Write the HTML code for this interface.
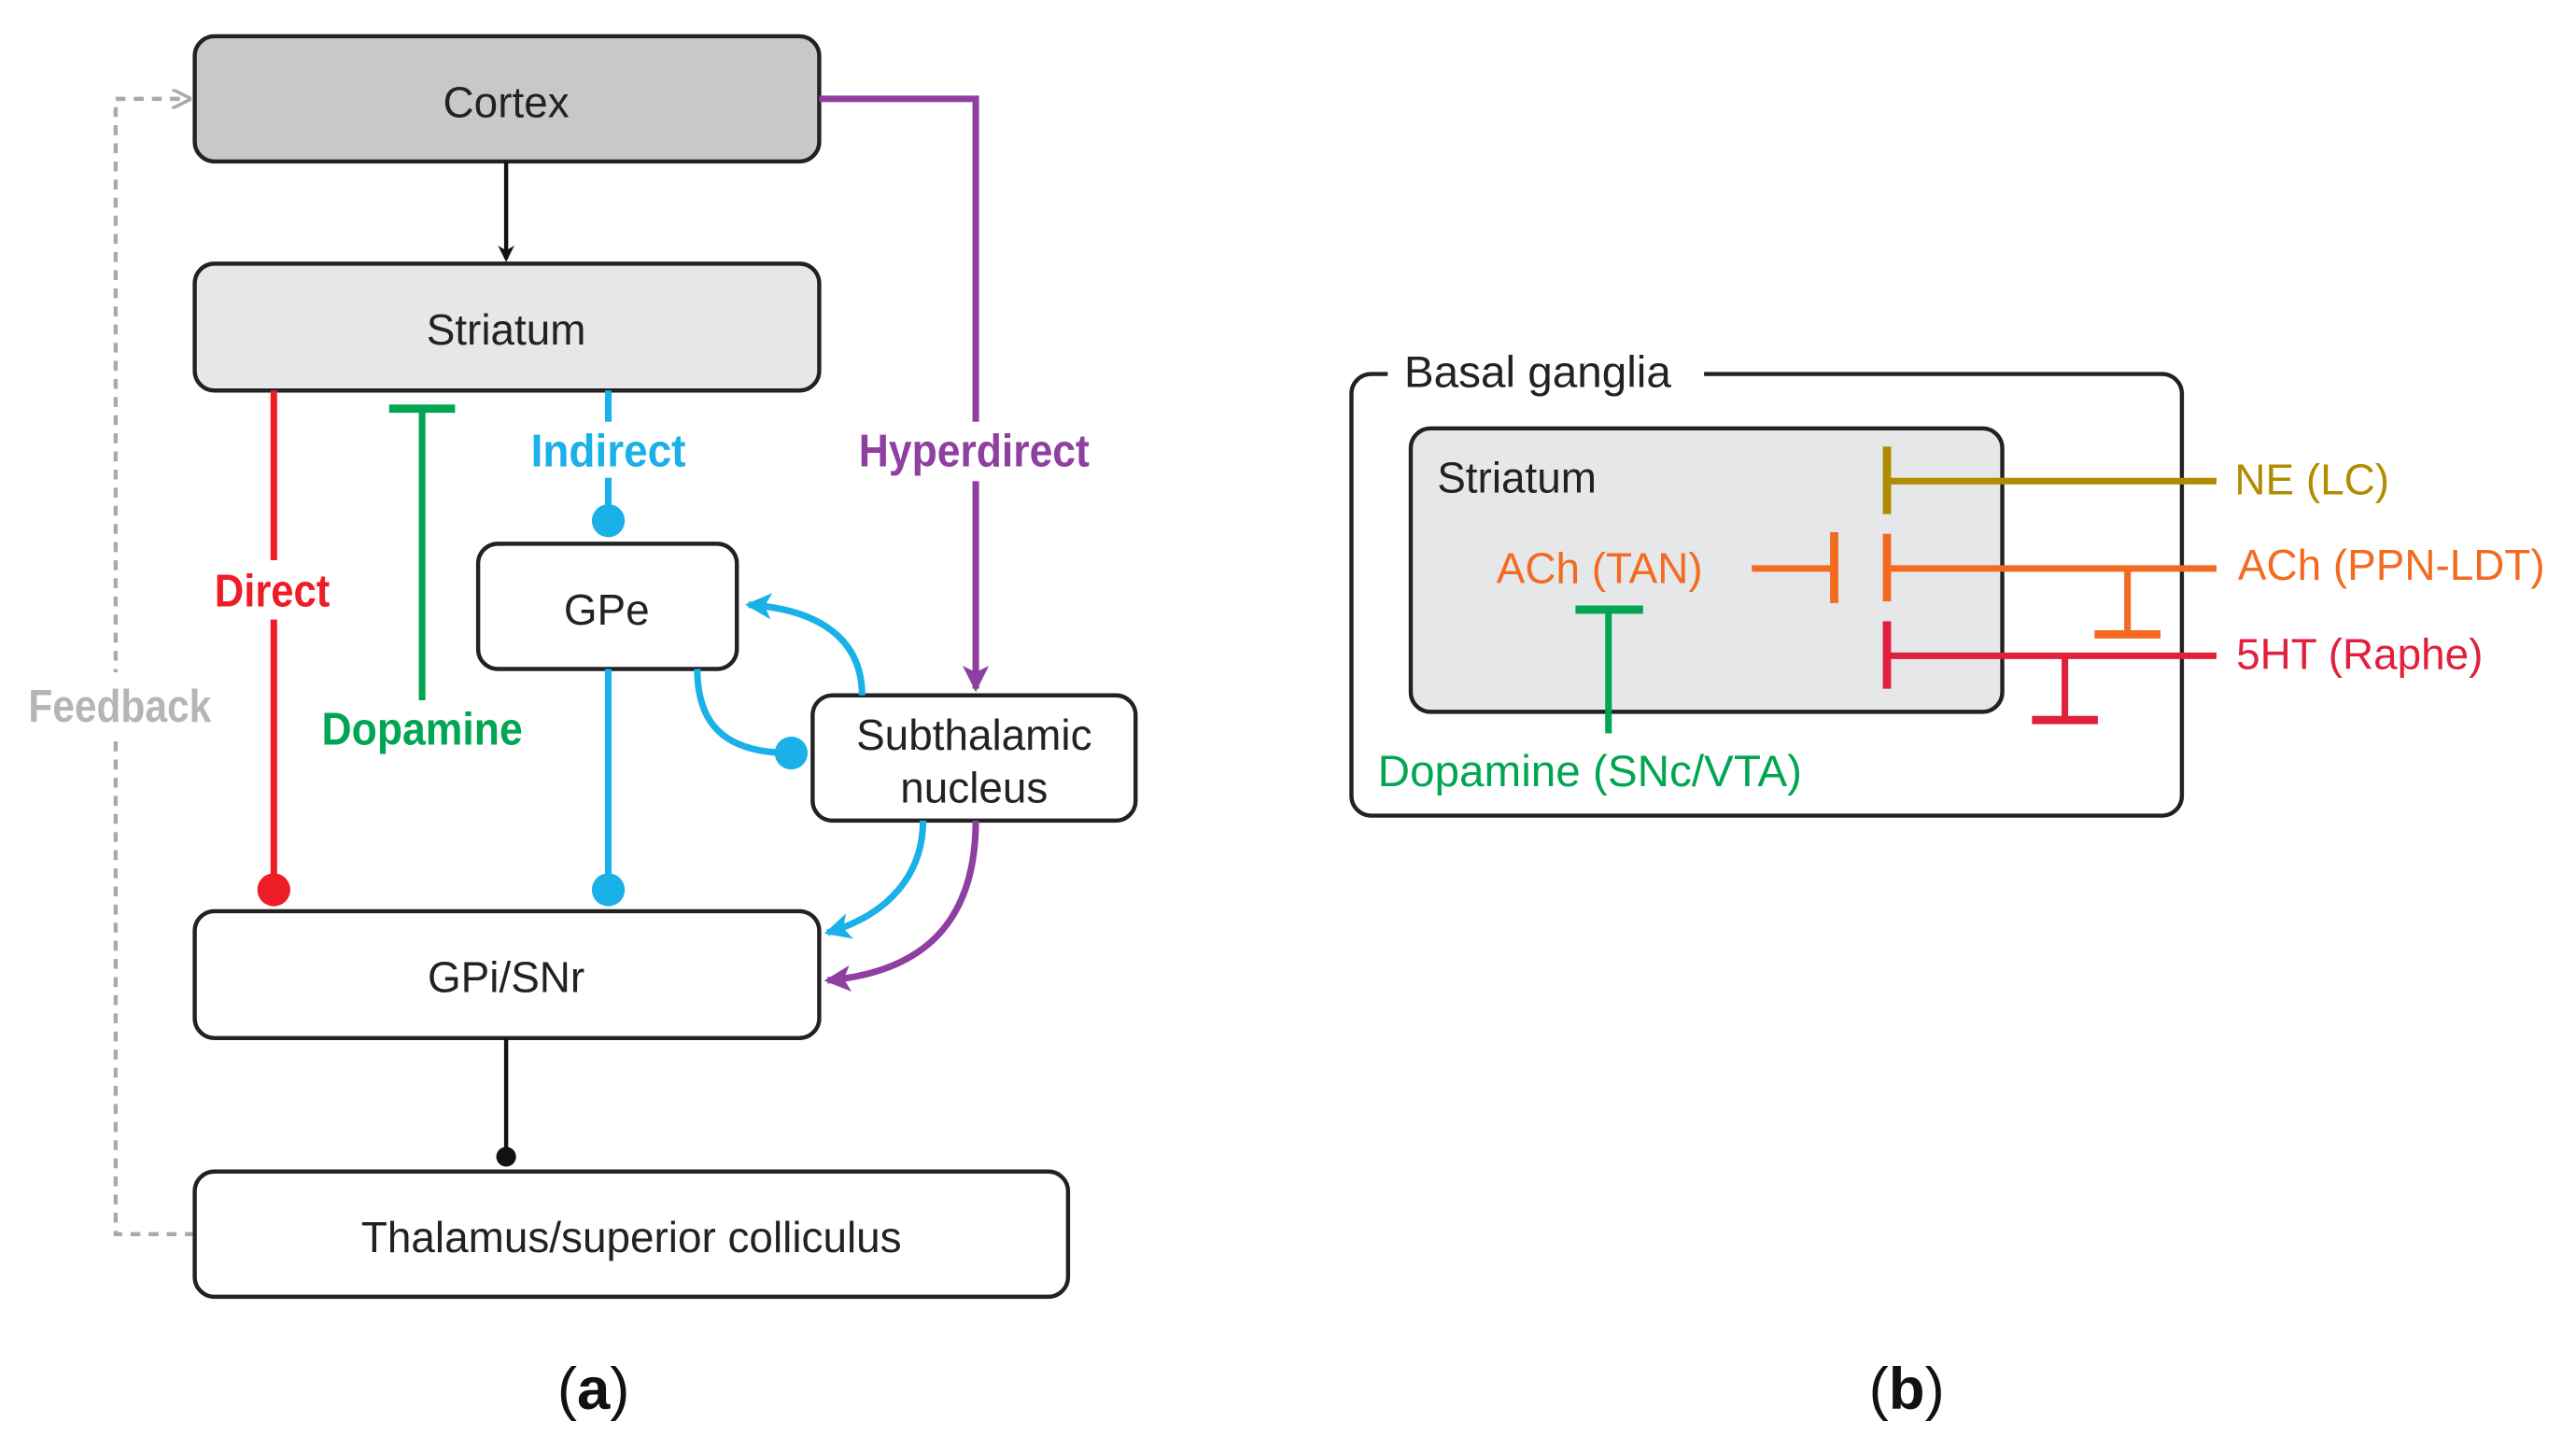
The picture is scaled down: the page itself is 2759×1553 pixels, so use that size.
<!DOCTYPE html>
<html><head><meta charset="utf-8"><style>
html,body{margin:0;padding:0;background:#fff;}
svg{display:block;}
text{font-family:"Liberation Sans",sans-serif;}
.c{font-family:"Liberation Sans Narrow","Liberation Sans",sans-serif;font-weight:bold;}
</style></head><body>
<svg width="2759" height="1553" viewBox="0 0 1563 880" xmlns="http://www.w3.org/2000/svg">
<defs>
<marker id="ak" markerWidth="10" markerHeight="10" refX="8" refY="5" orient="auto" markerUnits="userSpaceOnUse"><path d="M0,0 L10,5 L0,10 L3,5z" fill="#111"/></marker>
<marker id="ab" markerWidth="18" markerHeight="18" refX="14" refY="8" orient="auto" markerUnits="userSpaceOnUse"><path d="M0,0 L16,8 L0,16 L4,8z" fill="#1ab0e8"/></marker>
<marker id="ap" markerWidth="18" markerHeight="18" refX="14" refY="8" orient="auto" markerUnits="userSpaceOnUse"><path d="M0,0 L16,8 L0,16 L4,8z" fill="#8e3fa0"/></marker>
<marker id="ag" markerWidth="12" markerHeight="12" refX="10" refY="6" orient="auto" markerUnits="userSpaceOnUse"><path d="M0,0 L12,6 L0,12" fill="none" stroke="#aaa" stroke-width="2"/></marker>
</defs>
<path d="M118,749 H70 V60 H114" fill="none" stroke="#aaa" stroke-width="2.5" stroke-dasharray="6,5" marker-end="url(#ag)"/>
<rect x="14" y="408" width="118" height="40" fill="#fff"/>
<text x="17" y="438" class="c" font-size="28" fill="#b5b5b5" textLength="111" lengthAdjust="spacingAndGlyphs">Feedback</text>
<rect x="118" y="22" width="379" height="76" rx="12" fill="#c8c8c8" stroke="#222" stroke-width="2.5"/>
<text x="307" y="71" font-size="26" text-anchor="middle" fill="#222">Cortex</text>
<line x1="307" y1="98" x2="307" y2="157" stroke="#111" stroke-width="2.5" marker-end="url(#ak)"/>
<rect x="118" y="160" width="379" height="77" rx="12" fill="#e6e7e9" stroke="#222" stroke-width="2.5"/>
<text x="307" y="209" font-size="26" text-anchor="middle" fill="#222">Striatum</text>
<line x1="166" y1="237" x2="166" y2="540" stroke="#ee1c25" stroke-width="4"/>
<circle cx="166" cy="540" r="10" fill="#ee1c25"/>
<rect x="125" y="340" width="82" height="36" fill="#fff"/>
<text x="130" y="368" class="c" font-size="28" fill="#ee1c25" textLength="70" lengthAdjust="spacingAndGlyphs">Direct</text>
<line x1="256" y1="248" x2="256" y2="425" stroke="#00a651" stroke-width="4"/>
<line x1="236" y1="248" x2="276" y2="248" stroke="#00a651" stroke-width="5"/>
<text x="195" y="452" class="c" font-size="28" fill="#00a651" textLength="122" lengthAdjust="spacingAndGlyphs">Dopamine</text>
<line x1="369" y1="237" x2="369" y2="256" stroke="#1ab0e8" stroke-width="4"/>
<line x1="369" y1="290" x2="369" y2="316" stroke="#1ab0e8" stroke-width="4"/>
<circle cx="369" cy="316" r="10" fill="#1ab0e8"/>
<text x="322" y="283" class="c" font-size="28" fill="#1ab0e8" textLength="94" lengthAdjust="spacingAndGlyphs">Indirect</text>
<rect x="290" y="330" width="157" height="76" rx="12" fill="#fff" stroke="#222" stroke-width="2.5"/>
<text x="368" y="379" font-size="26" text-anchor="middle" fill="#222">GPe</text>
<line x1="369" y1="406" x2="369" y2="540" stroke="#1ab0e8" stroke-width="4"/>
<circle cx="369" cy="540" r="10" fill="#1ab0e8"/>
<path d="M497,60 H592 V256" fill="none" stroke="#8e3fa0" stroke-width="4"/>
<path d="M592,292 V418" fill="none" stroke="#8e3fa0" stroke-width="4" marker-end="url(#ap)"/>
<text x="521" y="283" class="c" font-size="28" fill="#8e3fa0" textLength="140" lengthAdjust="spacingAndGlyphs">Hyperdirect</text>
<rect x="493" y="422" width="196" height="76" rx="12" fill="#fff" stroke="#222" stroke-width="2.5"/>
<text x="591" y="455" font-size="26" text-anchor="middle" fill="#222">Subthalamic</text>
<text x="591" y="487" font-size="26" text-anchor="middle" fill="#222">nucleus</text>
<path d="M523,422 C523,390 500,370 454,367" fill="none" stroke="#1ab0e8" stroke-width="4" marker-end="url(#ab)"/>
<path d="M423,406 C423,440 440,457 480,457" fill="none" stroke="#1ab0e8" stroke-width="4"/>
<circle cx="480" cy="457" r="10" fill="#1ab0e8"/>
<path d="M560,498 C560,530 540,555 502,566" fill="none" stroke="#1ab0e8" stroke-width="4" marker-end="url(#ab)"/>
<path d="M592,498 C592,560 560,590 502,595" fill="none" stroke="#8e3fa0" stroke-width="4" marker-end="url(#ap)"/>
<rect x="118" y="553" width="379" height="77" rx="12" fill="#fff" stroke="#222" stroke-width="2.5"/>
<text x="307" y="602" font-size="26" text-anchor="middle" fill="#222">GPi/SNr</text>
<line x1="307" y1="630" x2="307" y2="702" stroke="#111" stroke-width="2.5"/>
<circle cx="307" cy="702" r="6" fill="#111"/>
<rect x="118" y="711" width="530" height="76" rx="12" fill="#fff" stroke="#222" stroke-width="2.5"/>
<text x="383" y="760" font-size="26" text-anchor="middle" fill="#222">Thalamus/superior colliculus</text>
<text x="360" y="855" font-family="Liberation Serif,serif" font-size="36" text-anchor="middle" fill="#111">(<tspan font-weight="bold">a</tspan>)</text>
<text x="1157" y="855" font-family="Liberation Serif,serif" font-size="36" text-anchor="middle" fill="#111">(<tspan font-weight="bold">b</tspan>)</text>
<rect x="820" y="227" width="504" height="268" rx="12" fill="#fff" stroke="#222" stroke-width="2.5"/>
<rect x="842" y="210" width="192" height="34" fill="#fff"/>
<text x="852" y="235" font-size="27" fill="#222">Basal ganglia</text>
<rect x="856" y="260" width="359" height="172" rx="12" fill="#e6e7e9" stroke="#222" stroke-width="2.5"/>
<text x="872" y="299" font-size="26" fill="#222">Striatum</text>
<text x="908" y="354" font-size="26" fill="#f26b21">ACh (TAN)</text>
<line x1="1063" y1="345" x2="1113" y2="345" stroke="#f26b21" stroke-width="4"/>
<line x1="1113" y1="323" x2="1113" y2="366" stroke="#f26b21" stroke-width="5"/>
<line x1="976" y1="370" x2="976" y2="445" stroke="#00a651" stroke-width="4"/>
<line x1="956" y1="370" x2="997" y2="370" stroke="#00a651" stroke-width="5"/>
<text x="836" y="477" font-size="27" fill="#00a651">Dopamine (SNc/VTA)</text>
<line x1="1145" y1="292" x2="1345" y2="292" stroke="#b08c00" stroke-width="4"/>
<line x1="1145" y1="271" x2="1145" y2="312" stroke="#b08c00" stroke-width="5"/>
<text x="1356" y="300" font-size="26" fill="#b08c00">NE (LC)</text>
<line x1="1145" y1="345" x2="1345" y2="345" stroke="#f26b21" stroke-width="4"/>
<line x1="1145" y1="324" x2="1145" y2="365" stroke="#f26b21" stroke-width="5"/>
<line x1="1291" y1="345" x2="1291" y2="385" stroke="#f26b21" stroke-width="4"/>
<line x1="1271" y1="385" x2="1311" y2="385" stroke="#f26b21" stroke-width="5"/>
<text x="1358" y="352" font-size="26" fill="#f26b21">ACh (PPN-LDT)</text>
<line x1="1145" y1="398" x2="1345" y2="398" stroke="#e0203c" stroke-width="4"/>
<line x1="1145" y1="377" x2="1145" y2="418" stroke="#e0203c" stroke-width="5"/>
<line x1="1253" y1="398" x2="1253" y2="437" stroke="#e0203c" stroke-width="4"/>
<line x1="1233" y1="437" x2="1273" y2="437" stroke="#e0203c" stroke-width="5"/>
<text x="1357" y="406" font-size="26" fill="#e0203c">5HT (Raphe)</text>
</svg>
</body></html>
